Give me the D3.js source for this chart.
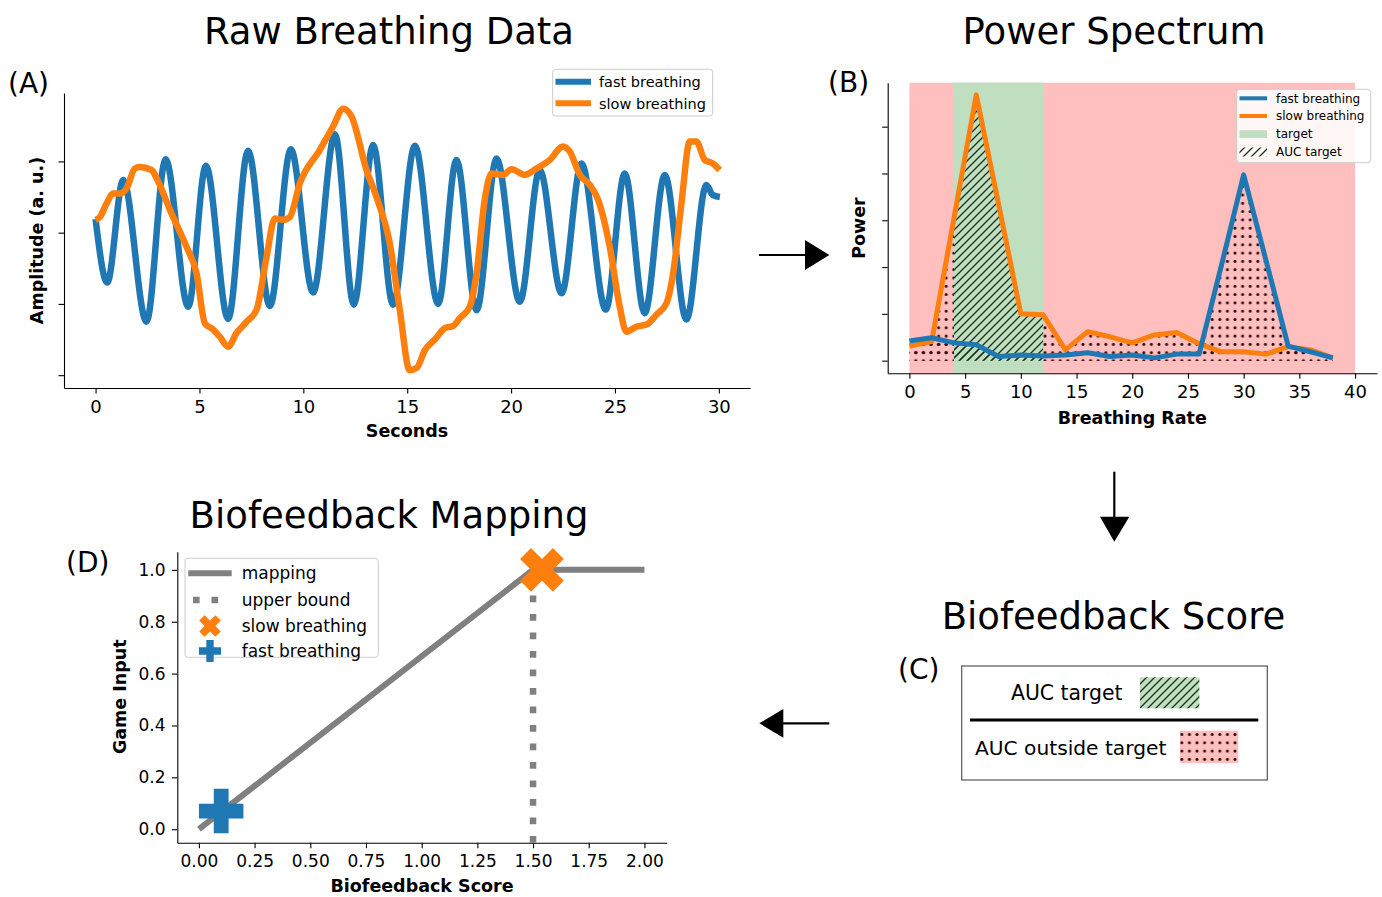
<!DOCTYPE html>
<html><head><meta charset="utf-8">
<script src="https://cdn.jsdelivr.net/npm/d3@7"></script>
<style>
body{margin:0;background:#fff}
svg{display:block}
text{font-family:"DejaVu Sans",sans-serif;fill:#000}
</style>
</head><body>
<svg id="chart" width="1382" height="897"></svg>
<script>
// ---------------- DATA ----------------
// (A) Raw breathing data: [seconds, amplitude]
const fastBreathing = [[0,0.19],[0.56,-0.70],[1.33,0.74],[2.45,-1.25],[3.37,1.03],[4.46,-1.04],[5.31,0.94],[6.38,-1.21],[7.34,1.15],[8.39,-1.03],[9.40,1.17],[10.47,-0.84],[11.52,1.38],[12.43,-1.01],[13.36,1.23],[14.32,-1.01],[15.37,1.22],[16.49,-1.0],[17.37,1.02],[18.34,-1.09],[19.30,1.04],[20.42,-0.97],[21.38,0.88],[22.43,-0.85],[23.39,0.97],[24.56,-1.08],[25.47,0.83],[26.43,-1.13],[27.40,0.81],[28.44,-1.22],[29.40,0.67],[29.70,0.53],[30.05,0.50]];
const slowBreathing = [[0,0.18],[0.21,0.22],[0.53,0.41],[0.85,0.55],[1.17,0.55],[1.49,0.62],[1.89,0.90],[2.13,0.92],[2.69,0.88],[3.01,0.72],[3.58,0.32],[4.38,-0.20],[4.86,-0.57],[5.26,-1.27],[5.66,-1.36],[5.98,-1.46],[6.38,-1.60],[6.78,-1.41],[7.27,-1.25],[7.75,-1.08],[8.23,-0.34],[8.63,0.20],[9.03,0.18],[9.35,0.22],[9.83,0.69],[10.79,1.16],[11.43,1.49],[11.92,1.74],[12.32,1.63],[13.04,0.88],[13.52,0.50],[14.16,-0.15],[14.64,-1.08],[15.12,-1.93],[15.45,-1.90],[15.85,-1.65],[16.33,-1.50],[16.81,-1.34],[17.21,-1.31],[17.53,-1.20],[18.01,-1.04],[18.34,-0.57],[18.73,0.46],[19.06,0.83],[19.62,0.81],[20.02,0.89],[20.66,0.81],[21.22,0.90],[21.86,1.02],[22.50,1.21],[22.82,1.14],[23.31,0.81],[23.79,0.67],[24.19,0.46],[24.75,-0.20],[25.23,-1.04],[25.55,-1.39],[26.03,-1.32],[26.52,-1.29],[27.00,-1.15],[27.48,-0.99],[27.80,-0.57],[28.20,0.41],[28.60,1.28],[28.92,1.28],[29.32,1.02],[29.72,0.97],[30.04,0.88]];
const rawXTicks = [0,5,10,15,20,25,30];
const rawYTicks = [-2,-1,0,1];

// (B) Power spectrum
const breathingRates = [0,2,4,6,8,10,12,14,16,18,20,22,24,26,28,30,32,34,36,38];
const fastPower = [0.42,0.49,0.38,0.34,0.09,0.12,0.10,0.12,0.17,0.09,0.12,0.06,0.14,0.14,2.03,3.97,2.15,0.31,0.19,0.06];
const slowPower = [0.31,0.41,3.05,5.68,3.35,1.00,0.98,0.23,0.62,0.51,0.38,0.55,0.60,0.36,0.19,0.19,0.14,0.30,0.23,0.06];
const targetBand = [4,12];
const spectrumBand = [0,40];
const specXTicks = [0,5,10,15,20,25,30,35,40];
const specYTicks = [0,1,2,3,4,5];

// (D) Biofeedback mapping
const mappingScore = [0,1.5,2.0];
const mappingInput = [0,1,1];
const upperBound = 1.5;
const slowPoint = [1.54,1.0];
const fastPoint = [0.1,0.07];
const mapXTicks = [0,0.25,0.5,0.75,1.0,1.25,1.5,1.75,2.0];
const mapYTicks = [0,0.2,0.4,0.6,0.8,1.0];

// ---------------- STYLE ----------------
const BLUE="#1f77b4", ORANGE="#ff7f0e", GRAY="#808080";
const RED_BG="#ffbfbf", GREEN_BG="#c0dfc0";

const svg = d3.select("#chart");
const defs = svg.append("defs");
const hp = defs.append("pattern").attr("id","hatch").attr("patternUnits","userSpaceOnUse")
  .attr("width",8).attr("height",8);
hp.append("path").attr("d","M-2,2 L2,-2 M0,8 L8,0 M6,10 L10,6")
  .attr("stroke","#16301a").attr("stroke-width",1.3);
const dp = defs.append("pattern").attr("id","dots").attr("patternUnits","userSpaceOnUse")
  .attr("width",7.6).attr("height",8.3);
dp.append("circle").attr("cx",3.8).attr("cy",4.1).attr("r",1.5).attr("fill","#2e0a0d");

function styleAxis(g, fs){
  g.select(".domain").attr("stroke","#000").attr("stroke-width",1.1);
  g.selectAll(".tick line").attr("stroke","#000").attr("stroke-width",1.1);
  g.selectAll(".tick text").attr("font-size",fs).attr("fill","#000")
    .attr("font-family","DejaVu Sans, sans-serif");
}
function txt(x,y,s,opt={}){
  const t = svg.append("text").attr("x",x).attr("y",y).text(s)
    .attr("font-size",opt.size||16).attr("text-anchor",opt.anchor||"start");
  if(opt.bold) t.attr("font-weight","bold");
  if(opt.rot) t.attr("transform",`rotate(-90,${x},${y})`);
  return t;
}
function legendBox(x,y,w,h){
  svg.append("rect").attr("x",x).attr("y",y).attr("width",w).attr("height",h)
    .attr("rx",3).attr("fill","#fff").attr("fill-opacity",0.85)
    .attr("stroke","#cccccc").attr("stroke-width",1);
}

// ---------------- PANEL A ----------------
{
  const x = d3.scaleLinear().domain([-1.52,31.5]).range([64,750]);
  const y = d3.scaleLinear().domain([-2.18,1.96]).range([388,93]);
  const gx = svg.append("g").attr("transform","translate(0,388)")
    .call(d3.axisBottom(x).tickValues(rawXTicks).tickSize(5.5).tickPadding(6.3).tickSizeOuter(0).tickFormat(d3.format("d")));
  styleAxis(gx,18);
  const gy = svg.append("g").attr("transform","translate(64,0)")
    .call(d3.axisLeft(y).tickValues(rawYTicks).tickSize(5.5).tickSizeOuter(0).tickFormat(""));
  styleAxis(gy,18);
  const line = d3.line().x(d=>x(d[0])).y(d=>y(d[1])).curve(d3.curveMonotoneX);
  svg.append("path").datum(fastBreathing).attr("d",line).attr("fill","none")
    .attr("stroke",BLUE).attr("stroke-width",6.5).attr("stroke-linejoin","round");
  svg.append("path").datum(slowBreathing).attr("d",line).attr("fill","none")
    .attr("stroke",ORANGE).attr("stroke-width",6.5).attr("stroke-linejoin","round");
  // legend
  legendBox(552.7,69.3,160,46.7);
  [[BLUE,"fast breathing",81.7],[ORANGE,"slow breathing",103.3]].forEach(([c,l,yy])=>{
    svg.append("line").attr("x1",555.5).attr("x2",591).attr("y1",yy).attr("y2",yy)
      .attr("stroke",c).attr("stroke-width",6);
    txt(599,yy+5.2,l,{size:14.5});
  });
  txt(407,437,"Seconds",{size:17.5,bold:true,anchor:"middle"});
  txt(43.3,240.5,"Amplitude (a. u.)",{size:17.5,bold:true,anchor:"middle",rot:true});
  txt(389,44,"Raw Breathing Data",{size:37,anchor:"middle"});
  txt(8,93,"(A)",{size:28});
}

// ---------------- PANEL B ----------------
{
  const x = d3.scaleLinear().domain([-1.95,41.97]).range([887.7,1377]);
  const y = d3.scaleLinear().domain([-0.27,5.94]).range([373.3,82.7]);
  svg.append("rect").attr("x",x(spectrumBand[0])).attr("y",82.7)
    .attr("width",x(spectrumBand[1])-x(spectrumBand[0])).attr("height",373.3-82.7).attr("fill",RED_BG);
  svg.append("rect").attr("x",x(targetBand[0])).attr("y",82.7)
    .attr("width",x(targetBand[1])-x(targetBand[0])).attr("height",373.3-82.7).attr("fill",GREEN_BG);
  const area = d3.area().x(d=>x(d[0])).y0(y(0)).y1(d=>y(d[1]));
  const inT = r => r>=targetBand[0] && r<=targetBand[1];
  const lowOut = r => r<=targetBand[0];
  const highOut = r => r>=targetBand[1];
  [fastPower, slowPower].forEach(pw=>{
    const pts = breathingRates.map((r,i)=>[r,pw[i]]);
    [pts.filter(p=>lowOut(p[0])), pts.filter(p=>highOut(p[0]))].forEach(seg=>{
      svg.append("path").datum(seg).attr("d",area).attr("fill","url(#dots)");
    });
    svg.append("path").datum(pts.filter(p=>inT(p[0]))).attr("d",area).attr("fill","url(#hatch)");
  });
  const gx = svg.append("g").attr("transform","translate(0,373.3)")
    .call(d3.axisBottom(x).tickValues(specXTicks).tickSize(5.5).tickPadding(6.3).tickSizeOuter(0).tickFormat(d3.format("d")));
  styleAxis(gx,18);
  const gy = svg.append("g").attr("transform","translate(887.7,0)")
    .call(d3.axisLeft(y).tickValues(specYTicks).tickSize(5.5).tickSizeOuter(0).tickFormat(""));
  styleAxis(gy,18);
  const line = d3.line().x((d,i)=>x(breathingRates[i])).y(d=>y(d));
  svg.append("path").datum(slowPower).attr("d",line).attr("fill","none")
    .attr("stroke",ORANGE).attr("stroke-width",5).attr("stroke-linejoin","round");
  svg.append("path").datum(fastPower).attr("d",line).attr("fill","none")
    .attr("stroke",BLUE).attr("stroke-width",5).attr("stroke-linejoin","round");
  legendBox(1236.7,89.3,134,73.4);
  svg.append("line").attr("x1",1239.5).attr("x2",1267).attr("y1",98.3).attr("y2",98.3).attr("stroke",BLUE).attr("stroke-width",4);
  svg.append("line").attr("x1",1239.5).attr("x2",1267).attr("y1",116).attr("y2",116).attr("stroke",ORANGE).attr("stroke-width",4);
  svg.append("rect").attr("x",1239.5).attr("y",130.2).attr("width",27.5).attr("height",7.8).attr("fill",GREEN_BG);
  svg.append("rect").attr("x",1239.5).attr("y",147.5).attr("width",27.5).attr("height",9).attr("fill","url(#hatch)");
  [["fast breathing",98.3],["slow breathing",116],["target",134],["AUC target",151.7]].forEach(([l,yy])=>{
    txt(1276,yy+4.3,l,{size:12});
  });
  txt(1132.3,424,"Breathing Rate",{size:17.5,bold:true,anchor:"middle"});
  txt(864.5,228,"Power",{size:17.5,bold:true,anchor:"middle",rot:true});
  txt(1114,44,"Power Spectrum",{size:37,anchor:"middle"});
  txt(828,92,"(B)",{size:28});
}

// ---------------- PANEL C ----------------
{
  txt(1113.5,629,"Biofeedback Score",{size:37,anchor:"middle"});
  txt(898,679,"(C)",{size:28});
  svg.append("rect").attr("x",961.7).attr("y",666).attr("width",305.6).attr("height",114)
    .attr("fill","none").attr("stroke","#555").attr("stroke-width",1.2);
  txt(1011,700,"AUC target",{size:20.4});
  svg.append("rect").attr("x",1140).attr("y",677.3).attr("width",59.3).attr("height",31).attr("fill",GREEN_BG);
  svg.append("rect").attr("x",1140).attr("y",677.3).attr("width",59.3).attr("height",31).attr("fill","url(#hatch)");
  svg.append("line").attr("x1",970).attr("x2",1258.3).attr("y1",720).attr("y2",720)
    .attr("stroke","#000").attr("stroke-width",3);
  txt(975,755,"AUC outside target",{size:20.2});
  svg.append("rect").attr("x",1180).attr("y",730.7).attr("width",58.3).attr("height",32.6).attr("fill",RED_BG);
  svg.append("rect").attr("x",1180).attr("y",730.7).attr("width",58.3).attr("height",32.6).attr("fill","url(#dots)");
}

// ---------------- PANEL D ----------------
{
  const x = d3.scaleLinear().domain([-0.097,2.1]).range([177.3,666.7]);
  const y = d3.scaleLinear().domain([-0.052,1.07]).range([842.7,551.7]);
  const gx = svg.append("g").attr("transform","translate(0,842.7)")
    .call(d3.axisBottom(x).tickValues(mapXTicks).tickSize(5.5).tickPadding(6.3).tickSizeOuter(0).tickFormat(d3.format(".2f")));
  styleAxis(gx,17);
  const gy = svg.append("g").attr("transform","translate(177.3,0)")
    .call(d3.axisLeft(y).tickValues(mapYTicks).tickSize(5.5).tickPadding(6.3).tickSizeOuter(0).tickFormat(d3.format(".1f")));
  styleAxis(gy,17);
  const line = d3.line().x((d,i)=>x(mappingScore[i])).y(d=>y(d));
  svg.append("path").datum(mappingInput).attr("d",line).attr("fill","none")
    .attr("stroke",GRAY).attr("stroke-width",6);
  svg.append("line").attr("x1",x(upperBound)).attr("x2",x(upperBound))
    .attr("y1",y.range()[0]).attr("y2",y(1)).attr("stroke",GRAY).attr("stroke-width",6.5)
    .attr("stroke-dasharray","6.6,11.9");
  const plus = d3.symbol().type(d3.symbolCross);
  svg.append("path").attr("d",plus.size(1200)())
    .attr("transform",`translate(${x(slowPoint[0])},${y(slowPoint[1])}) rotate(45)`).attr("fill",ORANGE);
  svg.append("path").attr("d",plus.size(1100)())
    .attr("transform",`translate(${x(fastPoint[0])},${y(fastPoint[1])})`).attr("fill",BLUE);
  legendBox(185,558.3,193.3,99);
  svg.append("line").attr("x1",188.3).attr("x2",231.7).attr("y1",573.3).attr("y2",573.3).attr("stroke",GRAY).attr("stroke-width",6);
  svg.append("line").attr("x1",193).attr("x2",226).attr("y1",600).attr("y2",600).attr("stroke",GRAY).attr("stroke-width",6.5).attr("stroke-dasharray","6.6,11.9");
  svg.append("path").attr("d",plus.size(290)()).attr("transform","translate(210,626) rotate(45)").attr("fill",ORANGE);
  svg.append("path").attr("d",plus.size(270)()).attr("transform","translate(210,651)").attr("fill",BLUE);
  [["mapping",573.3],["upper bound",600],["slow breathing",626],["fast breathing",651]].forEach(([l,yy])=>{
    txt(241.7,yy+6,l,{size:17});
  });
  txt(422,892,"Biofeedback Score",{size:17.5,bold:true,anchor:"middle"});
  txt(126.1,696.7,"Game Input",{size:17.5,bold:true,anchor:"middle",rot:true});
  txt(389,528,"Biofeedback Mapping",{size:37,anchor:"middle"});
  txt(66,572,"(D)",{size:28});
}

// ---------------- ARROWS ----------------
{
  const g = svg.append("g");
  g.append("line").attr("x1",759).attr("x2",806).attr("y1",255).attr("y2",255).attr("stroke","#000").attr("stroke-width",2.2);
  g.append("path").attr("d","M805,240 L829.3,255 L805,270 Z").attr("fill","#000");
  g.append("line").attr("x1",1114.3).attr("x2",1114.3).attr("y1",471.7).attr("y2",518).attr("stroke","#000").attr("stroke-width",2.2);
  g.append("path").attr("d","M1100,516.7 L1129.3,516.7 L1114.3,541.7 Z").attr("fill","#000");
  g.append("line").attr("x1",829.3).attr("x2",782).attr("y1",723.3).attr("y2",723.3).attr("stroke","#000").attr("stroke-width",2.2);
  g.append("path").attr("d","M783.3,709 L759.3,723.3 L783.3,737.7 Z").attr("fill","#000");
}
</script>
</body></html>
